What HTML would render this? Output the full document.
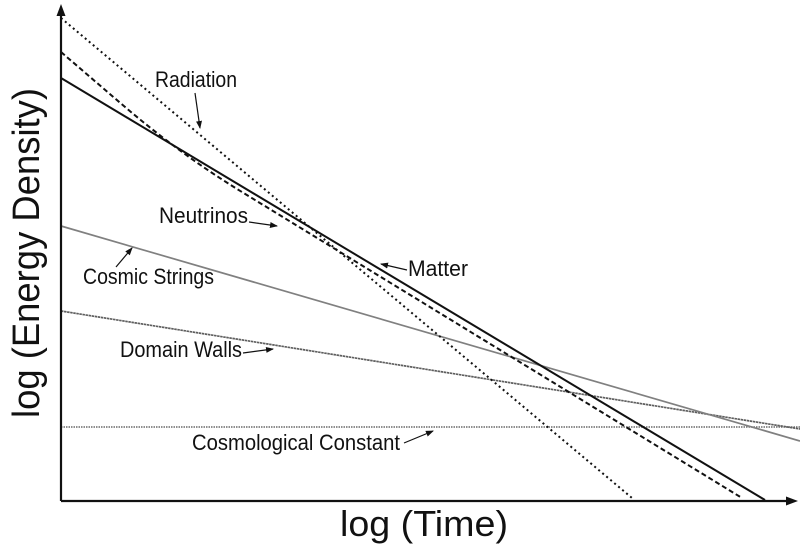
<!DOCTYPE html>
<html>
<head>
<meta charset="utf-8">
<style>
  html, body { margin: 0; padding: 0; background: #fff; }
  svg { display: block; }
  text { font-family: "Liberation Sans", sans-serif; fill: #111; }
</style>
</head>
<body>
<svg width="800" height="555" viewBox="0 0 800 555" xmlns="http://www.w3.org/2000/svg">
  <defs>
    <marker id="ah" markerWidth="8" markerHeight="6" refX="7" refY="3" orient="auto" markerUnits="userSpaceOnUse">
      <path d="M0,0 L8,3 L0,6 Z" fill="#111"/>
    </marker>
  </defs>
  <rect width="800" height="555" fill="#fff"/>

  <!-- Cosmological constant -->
  <line x1="61" y1="427" x2="800" y2="427" stroke="#6a6a6a" stroke-width="1.6" stroke-dasharray="1.5,1"/>
  <!-- Domain walls -->
  <line x1="61" y1="311" x2="800" y2="429" stroke="#5e5e5e" stroke-width="1.7" stroke-dasharray="2.5,0.6"/>
  <!-- Cosmic strings -->
  <line x1="61" y1="226" x2="800" y2="441" stroke="#808080" stroke-width="1.7"/>

  <!-- Radiation (dotted) -->
  <line x1="61" y1="18" x2="632" y2="498" stroke="#111" stroke-width="2" stroke-dasharray="2,3.2"/>
  <!-- Neutrinos (dashed) -->
  <path d="M61,52 L120,102.7 Q179,153.4 240,190.8 L742,498" fill="none" stroke="#111" stroke-width="2" stroke-dasharray="5,3"/>
  <!-- Matter (solid) -->
  <line x1="61" y1="78" x2="765" y2="500" stroke="#111" stroke-width="2"/>

  <!-- Axes -->
  <line x1="61" y1="501" x2="790" y2="501" stroke="#111" stroke-width="2.2"/>
  <path d="M798,501 L786,496.5 L786,505.5 Z" fill="#111"/>
  <line x1="61" y1="501" x2="61" y2="13" stroke="#111" stroke-width="2.2"/>
  <path d="M61,4 L56.5,16 L65.5,16 Z" fill="#111"/>

  <!-- Axis labels -->
  <text x="340" y="536" font-size="36" textLength="168" lengthAdjust="spacingAndGlyphs">log (Time)</text>
  <text transform="translate(39,418) rotate(-90)" x="0" y="0" font-size="38" textLength="330" lengthAdjust="spacingAndGlyphs">log (Energy Density)</text>

  <!-- Series labels -->
  <text x="155" y="87" font-size="22" textLength="82" lengthAdjust="spacingAndGlyphs">Radiation</text>
  <line x1="195" y1="93" x2="200" y2="128" stroke="#111" stroke-width="1.2" marker-end="url(#ah)"/>

  <text x="159" y="223" font-size="22" textLength="89" lengthAdjust="spacingAndGlyphs">Neutrinos</text>
  <line x1="249" y1="222" x2="277" y2="226" stroke="#111" stroke-width="1.2" marker-end="url(#ah)"/>

  <text x="83" y="284" font-size="22" textLength="131" lengthAdjust="spacingAndGlyphs">Cosmic Strings</text>
  <line x1="116" y1="267" x2="132" y2="248" stroke="#111" stroke-width="1.2" marker-end="url(#ah)"/>

  <text x="408" y="276" font-size="22" textLength="60" lengthAdjust="spacingAndGlyphs">Matter</text>
  <line x1="407" y1="270" x2="381" y2="264" stroke="#111" stroke-width="1.2" marker-end="url(#ah)"/>

  <text x="120" y="357" font-size="22" textLength="122" lengthAdjust="spacingAndGlyphs">Domain Walls</text>
  <line x1="243" y1="353" x2="273" y2="349" stroke="#111" stroke-width="1.2" marker-end="url(#ah)"/>

  <text x="192" y="450" font-size="22" textLength="208" lengthAdjust="spacingAndGlyphs">Cosmological Constant</text>
  <line x1="404" y1="443" x2="433" y2="431" stroke="#111" stroke-width="1.2" marker-end="url(#ah)"/>
</svg>
</body>
</html>
